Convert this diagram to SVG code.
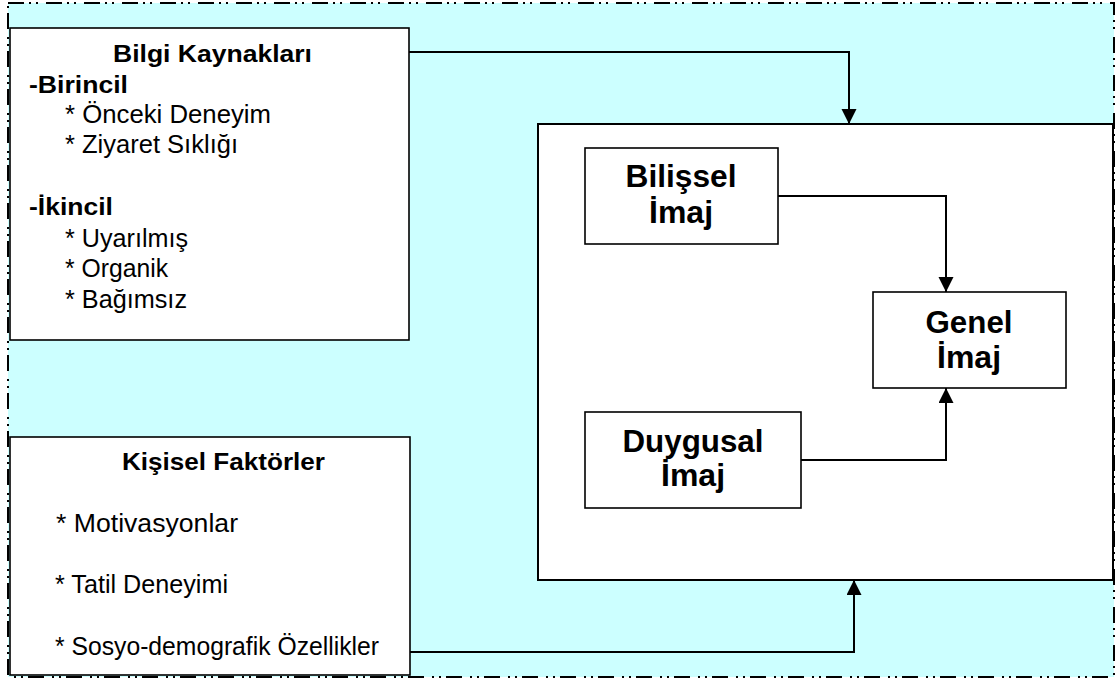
<svg xmlns="http://www.w3.org/2000/svg" width="1116" height="681" viewBox="0 0 1116 681">
  <defs>
    <marker id="arrow" markerWidth="15" markerHeight="16" refX="15" refY="7.5" orient="auto" markerUnits="userSpaceOnUse">
      <path d="M0,0 L15,7.5 L0,15 Z" fill="#000"/>
    </marker>
    <style>
      .frame { fill: #CCFFFF; stroke: #000; stroke-width: 2; stroke-dasharray: 16 5 2 5 2 8; }
      .box { fill: #fff; stroke: #000; stroke-width: 1.6; }
      .panel { fill: #fff; stroke: #000; stroke-width: 2; }
      .wire { fill: none; stroke: #000; stroke-width: 2; }
      text { font-family: "Liberation Sans", Arial, sans-serif; fill: #000; }
      .h { font-weight: bold; font-size: 24px; }
      .b { font-weight: bold; font-size: 32px; text-anchor: middle; }
      .t { font-size: 25px; }
    </style>
  </defs>

  <!-- dash-dot-dot outer frame with cyan fill -->
  <rect class="frame" x="8" y="3" width="1106" height="674"/>

  <!-- information sources -->
  <g id="bilgi-kaynaklari">
    <rect class="box" x="10" y="28" width="399" height="312"/>
    <text class="h" x="212.5" y="62" text-anchor="middle" textLength="199" lengthAdjust="spacingAndGlyphs">Bilgi Kaynakları</text>
    <text class="h" x="29" y="93" textLength="99" lengthAdjust="spacingAndGlyphs">-Birincil</text>
    <text class="t" x="65" y="123" textLength="206" lengthAdjust="spacingAndGlyphs">* Önceki Deneyim</text>
    <text class="t" x="65" y="153" textLength="173" lengthAdjust="spacingAndGlyphs">* Ziyaret Sıklığı</text>
    <text class="h" x="29" y="215" textLength="84" lengthAdjust="spacingAndGlyphs">-İkincil</text>
    <text class="t" x="65" y="247" textLength="123" lengthAdjust="spacingAndGlyphs">* Uyarılmış</text>
    <text class="t" x="65" y="277" textLength="103" lengthAdjust="spacingAndGlyphs">* Organik</text>
    <text class="t" x="65" y="308" textLength="122" lengthAdjust="spacingAndGlyphs">* Bağımsız</text>
  </g>

  <!-- personal factors -->
  <g id="kisisel-faktorler">
    <rect class="box" x="10" y="437" width="400" height="238"/>
    <text class="h" x="223.5" y="470" text-anchor="middle" textLength="203" lengthAdjust="spacingAndGlyphs">Kişisel Faktörler</text>
    <text class="t" x="56" y="532" textLength="182" lengthAdjust="spacingAndGlyphs">* Motivasyonlar</text>
    <text class="t" x="55" y="593" textLength="173" lengthAdjust="spacingAndGlyphs">* Tatil Deneyimi</text>
    <text class="t" x="55" y="655" textLength="324" lengthAdjust="spacingAndGlyphs">* Sosyo-demografik Özellikler</text>
  </g>

  <!-- destination image panel -->
  <g id="imaj-paneli">
    <rect class="panel" x="538" y="124" width="575" height="456"/>
  </g>

  <g id="bilissel-imaj">
    <rect class="box" x="585" y="148" width="193" height="96"/>
    <text class="b" x="681" y="187" textLength="111" lengthAdjust="spacingAndGlyphs">Bilişsel</text>
    <text class="b" x="681" y="223">İmaj</text>
  </g>

  <g id="duygusal-imaj">
    <rect class="box" x="585" y="412" width="216" height="96"/>
    <text class="b" x="693" y="452" textLength="141" lengthAdjust="spacingAndGlyphs">Duygusal</text>
    <text class="b" x="693" y="486">İmaj</text>
  </g>

  <g id="genel-imaj">
    <rect class="box" x="873" y="292" width="193" height="96"/>
    <text class="b" x="969" y="333" textLength="87" lengthAdjust="spacingAndGlyphs">Genel</text>
    <text class="b" x="969" y="368">İmaj</text>
  </g>

  <!-- connectors -->
  <g id="connectors">
    <path class="wire" d="M409,52 H849 V124" marker-end="url(#arrow)"/>
    <path class="wire" d="M410,652 H854 V580" marker-end="url(#arrow)"/>
    <path class="wire" d="M778,196 H946 V292" marker-end="url(#arrow)"/>
    <path class="wire" d="M801,460 H946 V388" marker-end="url(#arrow)"/>
  </g>
</svg>
